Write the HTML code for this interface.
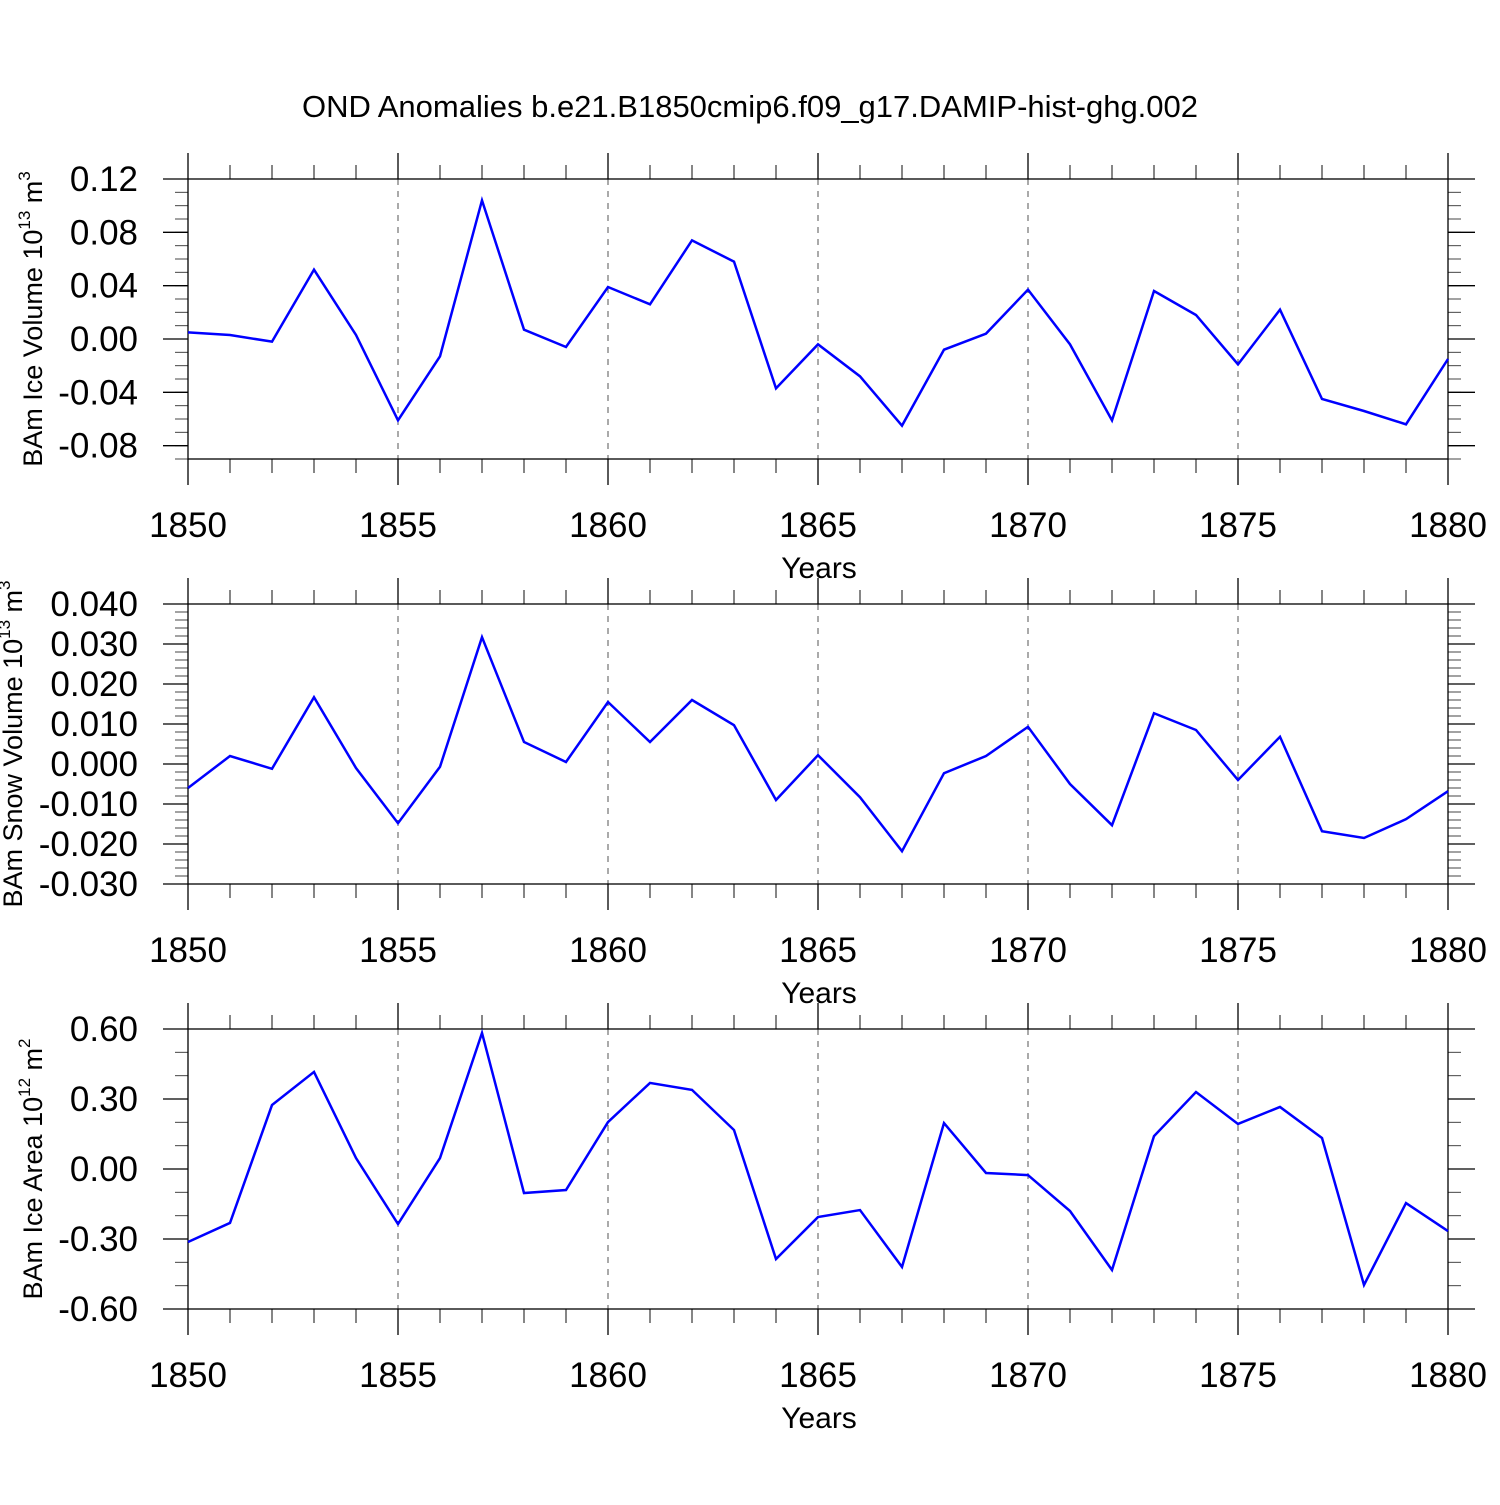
<!DOCTYPE html>
<html><head><meta charset="utf-8"><style>
html,body{margin:0;padding:0;background:#fff;}
svg text{font-family:"Liberation Sans",sans-serif;fill:#000;}
</style></head><body>
<svg id="chart" width="1500" height="1500" xmlns="http://www.w3.org/2000/svg">
<text x="750" y="117" font-size="31" text-anchor="middle">OND Anomalies b.e21.B1850cmip6.f09_g17.DAMIP-hist-ghg.002</text>
</svg>
<script>
const years = [1850,1851,1852,1853,1854,1855,1856,1857,1858,1859,1860,1861,1862,1863,1864,1865,1866,1867,1868,1869,1870,1871,1872,1873,1874,1875,1876,1877,1878,1879,1880];
const iceVolume = [0.005,0.003,-0.002,0.052,0.003,-0.061,-0.013,0.104,0.007,-0.006,0.039,0.026,0.074,0.058,-0.037,-0.004,-0.028,-0.065,-0.008,0.004,0.037,-0.004,-0.061,0.036,0.018,-0.019,0.022,-0.045,-0.054,-0.064,-0.015];
const snowVolume = [-0.006,0.002,-0.0012,0.0167,-0.001,-0.0148,-0.0007,0.0317,0.0055,0.0005,0.0155,0.0055,0.016,0.0097,-0.009,0.0022,-0.0083,-0.0218,-0.0023,0.002,0.0093,-0.005,-0.0153,0.0127,0.0085,-0.004,0.0068,-0.0168,-0.0185,-0.0138,-0.0068];
const iceArea = [-0.313,-0.231,0.274,0.416,0.047,-0.236,0.047,0.583,-0.103,-0.09,0.201,0.369,0.339,0.167,-0.386,-0.206,-0.176,-0.42,0.197,-0.017,-0.026,-0.18,-0.433,0.141,0.33,0.193,0.266,0.133,-0.497,-0.146,-0.266];
const xTicks = [1850,1855,1860,1865,1870,1875,1880];
const iceVolTicks = ["0.12","0.08","0.04","0.00","-0.04","-0.08"];
const snowTicks = ["0.040","0.030","0.020","0.010","0.000","-0.010","-0.020","-0.030"];
const areaTicks = ["0.60","0.30","0.00","-0.30","-0.60"];

const NS="http://www.w3.org/2000/svg";
const svg=document.getElementById('chart');
function mk(tag,attrs,parent){const e=document.createElementNS(NS,tag);for(const k in attrs)e.setAttribute(k,attrs[k]);(parent||svg).appendChild(e);return e;}
const X0=188,X1=1448;
const xs=v=>X0+(v-1850)/30*(X1-X0);

function panel(name,top,bot,ymin,ymax,vals,ticks,minorStep,titleMain,sup,unit,sup2,titleX){
  const g=mk('g',{});
  
  
  const ys=v=>bot-(v-ymin)/(ymax-ymin)*(bot-top);
  xTicks.slice(1,-1).forEach(t=>{const l=mk('line',{x1:xs(t),x2:xs(t),y1:top,y2:bot,stroke:'#555','stroke-width':1,'stroke-dasharray':'6,6'},g);
    
    });
  const n=Math.round((ymax-ymin)/minorStep);
  for(let i=0;i<=n;i++){const v=ymin+i*minorStep;const y=ys(v);
    mk('line',{x1:X0-13,x2:X0,y1:y,y2:y,stroke:'#444','stroke-width':1},g);
    mk('line',{x1:X1,x2:X1+13,y1:y,y2:y,stroke:'#444','stroke-width':1},g);}
  ticks.forEach(t=>{const v=parseFloat(t);const y=ys(v);
    mk('line',{x1:X0-25,x2:X0,y1:y,y2:y,stroke:'#000','stroke-width':1.3},g);
    mk('line',{x1:X1,x2:X1+27,y1:y,y2:y,stroke:'#000','stroke-width':1.3},g);
    const tx=mk('text',{x:138,y:y+12,'font-size':35,'text-anchor':'end'},g);
    
    
    tx.textContent=t;});
  for(let yr=1850;yr<=1880;yr++){const x=xs(yr);const major=(yr%5===0);
    mk('line',{x1:x,x2:x,y1:top-(major?26:14),y2:top,stroke:major?'#000':'#444','stroke-width':1.3},g);
    mk('line',{x1:x,x2:x,y1:bot,y2:bot+(major?26:14),stroke:major?'#000':'#444','stroke-width':1.3},g);}
  xTicks.forEach(t=>{const tx=mk('text',{x:xs(t),y:bot+78,'font-size':35,'text-anchor':'middle'},g);
    
    
    tx.textContent=t;});
  const xt=mk('text',{x:819,y:bot+119,'font-size':30,'text-anchor':'middle'},g);
  
  
  xt.textContent='Years';
  const fr=mk('rect',{x:X0,y:top,width:X1-X0,height:bot-top,fill:'none',stroke:'#000','stroke-width':1.3},g);
  
  
  const cy=(top+bot)/2;
  const yt=mk('text',{x:0,y:0,'font-size':27,'text-anchor':'middle',transform:`translate(${titleX},${cy}) rotate(-90)`},g);
  
  
  yt.appendChild(document.createTextNode(titleMain));
  const s=mk('tspan',{'font-size':17,dy:-12},yt);s.textContent=sup;
  const u=mk('tspan',{dy:12},yt);u.textContent=' '+unit;
  const s2=mk('tspan',{'font-size':17,dy:-12},yt);s2.textContent=sup2;
  const pl=mk('polyline',{points:vals.map((v,i)=>xs(years[i])+','+ys(v)).join(' '),fill:'none',stroke:'#0000ff','stroke-width':2.5},g);
  
  
}
panel('ice-volume',179,459,-0.09,0.12,iceVolume,iceVolTicks,0.01,'BAm Ice Volume 10','13','m','3',42);
panel('snow-volume',604,884,-0.03,0.04,snowVolume,snowTicks,0.002,'BAm Snow Volume 10','13','m','3',22);
panel('ice-area',1029,1309,-0.6,0.6,iceArea,areaTicks,0.1,'BAm Ice Area 10','12','m','2',42);
</script>
</body></html>
